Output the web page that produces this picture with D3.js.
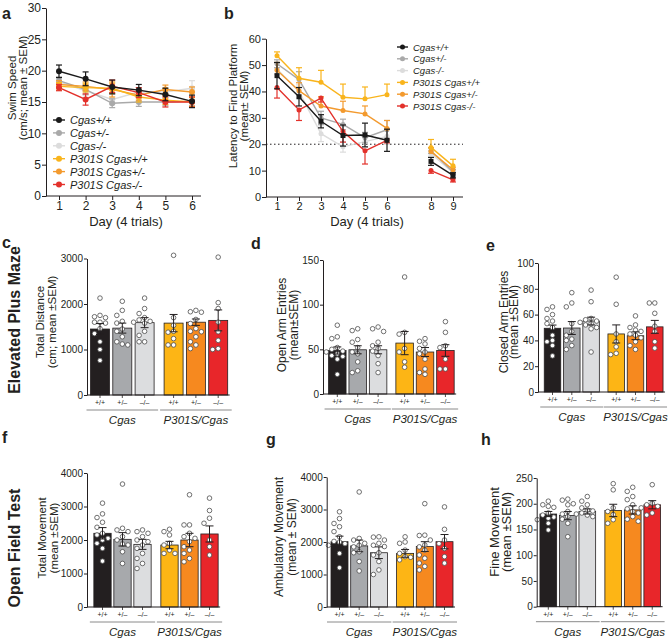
<!DOCTYPE html>
<html><head><meta charset="utf-8">
<script src="https://cdn.jsdelivr.net/npm/d3@7"></script>
<style>
body{margin:0;background:#fff}
svg text{font-family:"Liberation Sans",Arial,sans-serif;fill:#231f20}
</style>
</head><body>
<svg id="fig" width="670" height="639"></svg>
<script>
// ---------- shared ----------
const groupNames = ["Cgas+/+","Cgas+/-","Cgas-/-","P301S Cgas+/+","P301S Cgas+/-","P301S Cgas-/-"];
const lineColors = ["#1a1a1a","#a9a9a9","#dcdcdc","#f9b41c","#f39a2e","#e3312b"];
const barColors  = ["#231f20","#a7a9ac","#dcdddf","#fdb515","#f6891f","#e8262a"];
const genoLabels = ["+/+","+/\u2013","\u2013/\u2013","+/+","+/\u2013","\u2013/\u2013"];
const groupLabels = ["Cgas","P301S/Cgas"];

// ---------- panel a: swim speed ----------
const swimDays = [1,2,3,4,5,6];
const swimMean = [
  [19.9,18.7,17.4,16.9,16.2,15.1],
  [18.4,17.0,14.8,15.0,15.0,15.1],
  [18.2,16.8,15.4,16.6,16.6,17.2],
  [17.5,17.3,17.2,15.8,15.3,15.0],
  [17.8,17.5,17.0,16.1,17.0,16.6],
  [17.3,15.4,17.5,16.5,15.0,15.0]];
const swimSem = [
  [1.0,1.1,1.1,0.9,1.0,1.0],
  [0.6,0.8,0.7,0.7,0.6,0.7],
  [0.6,0.8,0.8,0.7,0.7,1.2],
  [0.6,0.7,0.8,0.8,0.7,0.7],
  [0.6,0.7,1.2,0.8,0.7,0.8],
  [0.5,0.9,1.0,0.8,0.8,0.8]];
const swimTicks = [0,5,10,15,20,25,30];

// ---------- panel b: latency ----------
const latDays = [1,2,3,4,5,6,8,9];
const latMean = [
  [46.0,38.0,28.7,23.3,23.5,21.5,13.5,8.2],
  [50.5,44.5,30.0,27.5,22.5,25.5,17.5,9.5],
  [48.5,40.0,24.0,19.0,21.0,23.0,16.5,9.2],
  [53.5,45.0,43.5,37.8,37.2,38.8,18.8,11.8],
  [48.0,40.3,34.5,32.8,31.5,26.0,17.2,10.3],
  [41.5,33.0,37.5,24.8,17.5,21.5,10.0,6.5]];
const latSem = [
  [5.0,3.5,2.5,4.0,4.5,4.2,1.5,1.0],
  [1.5,3.0,2.5,2.0,2.0,3.5,1.0,1.0],
  [2.0,2.5,3.0,2.0,2.0,3.0,1.0,1.0],
  [1.5,4.0,4.5,5.0,4.5,4.0,3.0,2.5],
  [3.0,3.0,3.5,3.5,3.0,3.0,1.5,1.0],
  [4.0,4.0,1.5,4.0,5.0,1.0,1.0,0.8]];
const latTicks = [0,10,20,30,40,50,60];
const latXTicks = [1,2,3,4,5,6,8,9];
const latThreshold = 20;

// ---------- bar panels ----------
const cMean = [1450,1470,1590,1580,1600,1640];
const cSem  = [120,110,110,190,70,230];
const cDots = [
  [2130,1750,1720,1700,1600,1600,1580,1460,1350,1170,1000,760],
  [2060,1860,1750,1620,1580,1450,1400,1280,1170,1120,1100],
  [2130,1900,1790,1700,1650,1620,1600,1580,1400,1310,1170,1170],
  [3070,1700,1530,1400,1380,1240,1100,1100],
  [1860,1830,1820,1660,1570,1460,1400,1390,1280,1170,1100,1020],
  [3030,2030,1900,1600,1390,1200,1020,1000]];
const cTicks = [0,1000,2000,3000];

const dMean = [48.7,49.5,49.5,57,47,48.7];
const dSem  = [4,4.5,4.5,13,5,6.5];
const dDots = [
  [77,64,62,52,50,48,47,45,43,42,39,22],
  [73,71,61,58,52,47,45,36,26,24],
  [75,73,70,58,54,51,48,43,34,24],
  [131,69,67,51,47,36,30],
  [62,59,56,51,47,45,39,28,24,22],
  [81,69,54,52,39,28,28]];
const dTicks = [0,50,100,150];

const eMean = [49.4,49.6,55,45,43.6,50.5];
const eSem  = [2.5,5,3,7,3,5];
const eDots = [
  [66,64,60,57,55,53,50,44,40,39,36,28],
  [77,69,66,53,47,44,41,40,36,33],
  [79,70,57,56,55,54,53,52,50,49,31],
  [89,68,45,39,35,30,29],
  [59,52,50,48,47,45,44,42,39,36,33],
  [69,69,61,51,47,39,34]];
const eTicks = [0,20,40,60,80,100];

const fMean = [2200,2020,1870,1850,2000,2180];
const fSem  = [170,200,150,110,200,240];
const fDots = [
  [3100,2780,2670,2530,2380,2200,2150,2050,2000,1900,1750,1370],
  [3670,2350,2300,2250,2100,2000,1880,1850,1650,1300],
  [2300,2250,2200,2100,2000,1950,1850,1750,1600,1450,1300,1150],
  [2320,2250,2150,1900,1850,1700,1600,1600],
  [3350,2450,2450,2200,2100,2050,1950,1800,1700,1600,1450,1350],
  [3250,2880,2650,2500,2000,1800,1550]];
const fTicks = [0,1000,2000,3000,4000];

const gMean = [2010,1880,1670,1650,1860,2010];
const gSem  = [170,180,180,120,150,220];
const gDots = [
  [2930,2720,2570,2470,2320,2160,2020,2000,1950,1900,1650,1210],
  [3540,2110,2060,1960,1900,1850,1700,1670,1400,1110],
  [2160,2150,2060,1960,1900,1860,1670,1600,1400,1140,1000],
  [2160,2000,1960,1750,1650,1550,1530,1450],
  [3180,2210,2200,2060,1910,1850,1750,1600,1500,1350,1250,1140],
  [3080,2390,2060,1950,1800,1550,1350]];
const gTicks = [0,1000,2000,3000,4000];

const hMean = [180,177,185,187,188,198];
const hSem  = [5,8,5,12,8,8];
const hDots = [
  [205,198,195,193,182,178,174,172,169,162,149],
  [209,207,200,198,185,180,175,170,162,136],
  [214,205,198,192,188,186,182,180,178,175],
  [239,227,192,185,179,169,162],
  [232,224,214,208,198,190,185,182,175,170,166],
  [237,201,198,195,192,182,178]];
const hTicks = [0,50,100,150,200,250];

// ---------- drawing ----------
const svg = d3.select("#fig");
const INK = "#231f20";

function styleAxis(ax, fs){
  ax.select(".domain").attr("stroke",INK).attr("stroke-width",1);
  ax.selectAll(".tick line").attr("stroke",INK);
  ax.selectAll(".tick text").attr("font-size",fs).attr("fill",INK)
    .attr("font-family",'"Liberation Sans",Arial,sans-serif');
}

function panelLabel(t,x,y){
  svg.append("text").attr("x",x).attr("y",y).attr("font-size",16)
    .attr("font-weight","bold").text(t);
}

function yTitle(lines, xs, cy, fs){
  lines.forEach((t,i)=>{
    svg.append("text").attr("transform",`translate(${xs[i]},${cy}) rotate(-90)`)
      .attr("text-anchor","middle").attr("dominant-baseline","central")
      .attr("font-size",fs).text(t);
  });
}

function lineChart(o){
  const x = d3.scaleLinear().domain(o.xDomain).range(o.xRange);
  const y = d3.scaleLinear().domain(o.yDomain).range(o.yRange);
  const g = svg.append("g");
  const ay = g.append("g").attr("transform",`translate(${o.axisX},0)`)
    .call(d3.axisLeft(y).tickValues(o.yTicks).tickSize(4).tickSizeOuter(0).tickPadding(1));
  styleAxis(ay,o.tickFs);
  g.append("line").attr("x1",o.axisX).attr("x2",o.axisXEnd)
    .attr("y1",y(0)).attr("y2",y(0)).attr("stroke",INK);
  const ax = g.append("g").attr("transform",`translate(0,${y(0)})`)
    .call(d3.axisBottom(x).tickValues(o.xTicks).tickFormat(d3.format("d")).tickSize(4).tickSizeOuter(0).tickPadding(1));
  ax.select(".domain").remove();
  styleAxis(ax,o.tickFs);
  g.append("text").attr("x",o.xTitleX).attr("y",o.xTitleY).attr("text-anchor","middle")
    .attr("font-size",13).text("Day (4 trials)");
  if(o.threshold!=null){
    g.append("line").attr("x1",o.axisX).attr("x2",o.axisXEnd)
      .attr("y1",y(o.threshold)).attr("y2",y(o.threshold))
      .attr("stroke",INK).attr("stroke-dasharray","1.5,2.5").attr("stroke-width",1);
  }
  const order = [2,1,4,3,5,0];
  const line = d3.line().x(d=>x(d[0])).y(d=>y(d[1]));
  order.forEach(s=>{
    const col = lineColors[s];
    const pts = o.days.map((d,i)=>[d,o.mean[s][i],o.sem[s][i]]);
    o.segments.forEach(seg=>{
      g.append("path").datum(pts.slice(seg[0],seg[1])).attr("d",line)
        .attr("fill","none").attr("stroke",col).attr("stroke-width",1.4);
    });
    const dir = o.errDir[s];
    pts.forEach(p=>{
      const cx = x(p[0]);
      const top = dir==="down" ? y(p[1]) : y(p[1]+p[2]);
      const bot = dir==="up" ? y(p[1]) : y(p[1]-p[2]);
      g.append("line").attr("x1",cx).attr("x2",cx).attr("y1",top).attr("y2",bot)
        .attr("stroke",col).attr("stroke-width",1.2);
      if(dir!=="down") g.append("line").attr("x1",cx-3).attr("x2",cx+3).attr("y1",top).attr("y2",top).attr("stroke",col).attr("stroke-width",1.2);
      if(dir!=="up") g.append("line").attr("x1",cx-3).attr("x2",cx+3).attr("y1",bot).attr("y2",bot).attr("stroke",col).attr("stroke-width",1.2);
      if(o.square && s===0){
        g.append("rect").attr("x",cx-2.5).attr("y",y(p[1])-2.5).attr("width",5).attr("height",5).attr("fill",col);
      } else {
        g.append("circle").attr("cx",cx).attr("cy",y(p[1])).attr("r",o.r).attr("fill",col);
      }
    });
  });
  groupNames.forEach((n,i)=>{
    const ly = o.legY + i*o.legStep;
    g.append("line").attr("x1",o.legX).attr("x2",o.legX+o.legW).attr("y1",ly).attr("y2",ly)
      .attr("stroke",lineColors[i]).attr("stroke-width",1.4);
    g.append("circle").attr("cx",o.legX+o.legW/2).attr("cy",ly).attr("r",o.r).attr("fill",lineColors[i]);
    g.append("text").attr("x",o.legX+o.legW+5).attr("y",ly).attr("dominant-baseline","central")
      .attr("font-size",o.legFs).attr("font-style","italic").text(n);
  });
}

function swarm(vals, y, r){
  const placed = [];
  const cand = [0,-1,1,-2,2,-3,3,-4,4,-5,5];
  const step = 2*r+0.9;
  return vals.slice().sort((a,b)=>b-a).map(v=>{
    const py = y(v); let ox = 0;
    for(const c of cand){
      const px = c*step;
      if(placed.every(p=>Math.hypot(p[0]-px,p[1]-py) >= 2*r+0.5)){ ox = px; break; }
    }
    placed.push([ox,py]);
    return [ox,py];
  });
}

function barChart(o){
  const pos = [0,1,2,2+o.gap,3+o.gap,4+o.gap];
  const x = d3.scaleLinear().domain([0,1]).range([o.x0,o.x0+o.step]);
  const y = d3.scaleLinear().domain(o.yDomain).range(o.yRange);
  const g = svg.append("g");
  const w = o.bw;
  const lastRight = x(pos[5])+w/2;
  pos.forEach((p,i)=>{
    g.append("rect").attr("x",x(p)-w/2).attr("y",y(o.mean[i])).attr("width",w)
      .attr("height",y(0)-y(o.mean[i])).attr("fill",barColors[i])
      .attr("stroke",INK).attr("stroke-width",0.8);
  });
  const r = 2.3;
  pos.forEach((p,i)=>{
    swarm(o.dots[i],y,r).forEach(d=>{
      g.append("circle").attr("cx",x(p)+d[0]).attr("cy",d[1]).attr("r",r)
        .attr("fill","#fff").attr("stroke","#4d4d4d").attr("stroke-width",0.8);
    });
  });
  pos.forEach((p,i)=>{
    const cx = x(p), t = y(o.mean[i]+o.sem[i]), b = y(o.mean[i]-o.sem[i]);
    g.append("line").attr("x1",cx).attr("x2",cx).attr("y1",t).attr("y2",b).attr("stroke",INK).attr("stroke-width",1);
    g.append("line").attr("x1",cx-4).attr("x2",cx+4).attr("y1",t).attr("y2",t).attr("stroke",INK).attr("stroke-width",1);
    g.append("line").attr("x1",cx-4).attr("x2",cx+4).attr("y1",b).attr("y2",b).attr("stroke",INK).attr("stroke-width",1);
  });
  const ay = g.append("g").attr("transform",`translate(${o.axisX},0)`)
    .call(d3.axisLeft(y).tickValues(o.ticks).tickFormat(d3.format("d")).tickSize(3).tickSizeOuter(0).tickPadding(1));
  styleAxis(ay,o.tickFs);
  g.append("line").attr("x1",o.axisX).attr("x2",lastRight+2).attr("y1",y(0)).attr("y2",y(0)).attr("stroke",INK);
  pos.forEach((p,i)=>{
    g.append("line").attr("x1",x(p)).attr("x2",x(p)).attr("y1",y(0)).attr("y2",y(0)+3).attr("stroke",INK).attr("stroke-width",0.8);
    g.append("text").attr("x",x(p)).attr("y",y(0)+10).attr("text-anchor","middle")
      .attr("font-size",7).text(genoLabels[i]);
  });
  [[0,2],[3,5]].forEach((gr,k)=>{
    const x1 = x(pos[gr[0]])-w/2-4, x2 = x(pos[gr[1]])+w/2+4;
    g.append("line").attr("x1",x1).attr("x2",x2).attr("y1",y(0)+15).attr("y2",y(0)+15)
      .attr("stroke","#8a8a8a").attr("stroke-width",1);
    g.append("text").attr("x",(x1+x2)/2).attr("y",y(0)+29).attr("text-anchor","middle")
      .attr("font-size",11.5).attr("font-style","italic").text(groupLabels[k]);
  });
  yTitle(o.title,o.titleX,o.titleY,o.titleFs);
}

// panel a
lineChart({xDomain:[1,6],xRange:[59,192],yDomain:[0,30],yRange:[196,8],axisX:46,axisXEnd:201,
  yTicks:swimTicks,xTicks:swimDays,tickFs:12,days:swimDays,mean:swimMean,sem:swimSem,
  segments:[[0,6]],errDir:["both","both","both","both","both","both"],r:3,
  xTitleX:126,xTitleY:226,legX:53,legY:120,legStep:12.9,legW:12,legFs:11});
yTitle(["Swim Speed","(cm/s; mean \u00b1 SEM)"],[12,23],88,11.5);

// panel b
lineChart({xDomain:[1,9],xRange:[277,453],yDomain:[0,60],yRange:[197,38.7],axisX:266,axisXEnd:463,
  yTicks:latTicks,xTicks:latXTicks,tickFs:11,days:latDays,mean:latMean,sem:latSem,
  segments:[[0,6],[6,8]],errDir:["both","both","both","up","up","down"],r:2.5,square:true,
  threshold:latThreshold,xTitleX:367,xTitleY:226,legX:397,legY:47,legStep:11.8,legW:11,legFs:9.5});
yTitle(["Latency to Find Platform","(mean\u00b1 SEM)"],[233,244],106,11.5);

// bar panels
barChart({x0:100,step:22.3,gap:1.3,bw:19,axisX:87,yDomain:[0,3000],yRange:[395,258.5],ticks:cTicks,tickFs:10,
  mean:cMean,sem:cSem,dots:cDots,title:["Total Distance","(cm; mean \u00b1SEM)"],titleX:[40,52],titleY:322,titleFs:11.5});
barChart({x0:337.3,step:20.4,gap:1.3,bw:17.5,axisX:323,yDomain:[0,150],yRange:[394,260],ticks:dTicks,tickFs:10,
  mean:dMean,sem:dSem,dots:dDots,title:["Open Arm Entries","(mean\u00b1SEM)"],titleX:[282,294],titleY:325,titleFs:12});
barChart({x0:552.5,step:19.3,gap:1.3,bw:16.5,axisX:538,yDomain:[0,100],yRange:[392,263],ticks:eTicks,tickFs:10,
  mean:eMean,sem:eSem,dots:eDots,title:["Closed Arm Entries","(mean \u00b1SEM)"],titleX:[504,514],titleY:322,titleFs:12});
barChart({x0:102.5,step:20,gap:1.35,bw:17.3,axisX:87,yDomain:[0,4000],yRange:[607,473],ticks:fTicks,tickFs:10,
  mean:fMean,sem:fSem,dots:fDots,title:["Total Movement","(mean \u00b1SEM)"],titleX:[42,54],titleY:538,titleFs:11.5});
barChart({x0:339.5,step:19.7,gap:1.33,bw:17,axisX:326.7,yDomain:[0,4000],yRange:[607,477],ticks:gTicks,tickFs:10,
  mean:gMean,sem:gSem,dots:gDots,title:["Ambulatory Movement","(mean \u00b1 SEM)"],titleX:[279,292],titleY:537,titleFs:12});
barChart({x0:548.3,step:19.5,gap:1.33,bw:16.7,axisX:536.7,yDomain:[0,250],yRange:[606.7,478],ticks:hTicks,tickFs:10,
  mean:hMean,sem:hSem,dots:hDots,title:["Fine Movement","(mean \u00b1SEM)"],titleX:[494,506],titleY:532,titleFs:13});

[["Elevated Plus Maze",14,320],["Open Field Test",14,548]].forEach(t=>{
  svg.append("text").attr("transform",`translate(${t[1]},${t[2]}) rotate(-90)`)
    .attr("text-anchor","middle").attr("dominant-baseline","central")
    .attr("font-size",16).attr("font-weight","bold").text(t[0]);
});

panelLabel("a",2,19); panelLabel("b",224,19);
panelLabel("c",2,248); panelLabel("d",251,249); panelLabel("e",486,251);
panelLabel("f",2,443); panelLabel("g",266,445); panelLabel("h",481,445);
</script>
</body></html>
